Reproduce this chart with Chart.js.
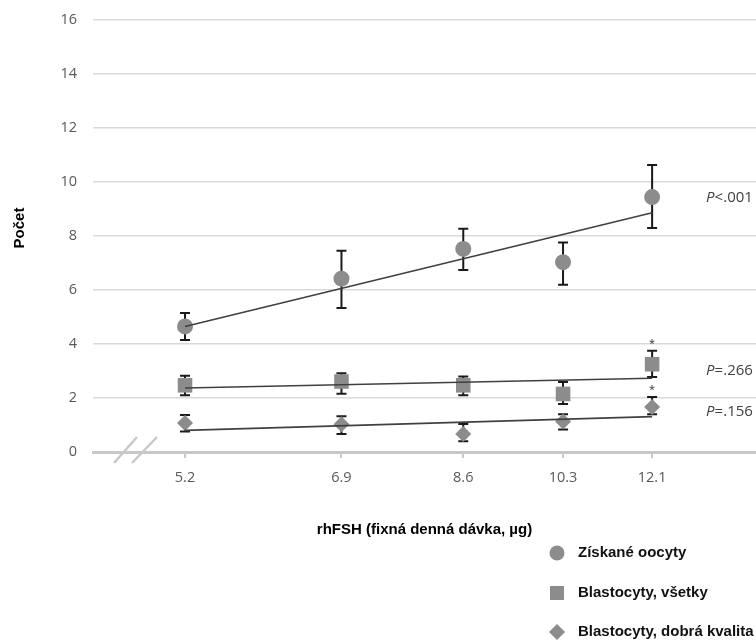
<!DOCTYPE html>
<html><head><meta charset="utf-8">
<script src="https://cdn.jsdelivr.net/npm/chart.js@4.4.0/dist/chart.umd.min.js"></script>
<style>html,body{margin:0;padding:0;background:#fff}#wrap{position:relative;width:756px;height:641px}</style>
</head><body><div id="wrap"><canvas id="c" width="756" height="641"></canvas></div>
<script>
// ---- data ----
const doses = [5.2, 6.9, 8.6, 10.3, 12.1];
const xTickLabels = ['5.2', '6.9', '8.6', '10.3', '12.1'];
const yTickValues = [0, 2, 4, 6, 8, 10, 12, 14, 16];
const seriesNames = ['Získané oocyty', 'Blastocyty, všetky', 'Blastocyty, dobrá kvalita'];
const yTitle = 'Počet';
const xTitle = 'rhFSH (fixná denná dávka, µg)';

const oocytes      = [4.65, 6.42, 7.52, 7.03, 9.44];
const oocytesLow   = [4.15, 5.33, 6.74, 6.19, 8.30];
const oocytesHigh  = [5.15, 7.45, 8.27, 7.76, 10.63];

const blastAll     = [2.47, 2.61, 2.47, 2.15, 3.25];
const blastAllLow  = [2.10, 2.16, 2.10, 1.78, 2.78];
const blastAllHigh = [2.82, 2.92, 2.80, 2.59, 3.75];

const blastGood     = [1.07, 1.03, 0.67, 1.13, 1.67];
const blastGoodLow  = [0.76, 0.67, 0.40, 0.83, 1.40];
const blastGoodHigh = [1.37, 1.32, 1.04, 1.40, 2.04];

const trendDoses      = [5.2, 12.1];
const trendOocytes    = [4.65, 8.86];
const trendBlastAll   = [2.37, 2.73];
const trendBlastGood  = [0.80, 1.31];

const pValueTexts = ['<.001', '=.266', '=.156'];
const starred = [false, true, true];   // asterisk at the highest dose

// ---- styling ----
const MARK = '#8c8c8c';
const TICKFONT = {family: "'Open Sans', sans-serif", size: 14.5};
const BOLD = {family: "'Liberation Sans', Arial, sans-serif", size: 15, weight: 'bold'};
const pts = (xs, ys) => xs.map((v, i) => ({x: v, y: ys[i]}));

const series = [
  {vals: oocytes, low: oocytesLow, high: oocytesHigh, trend: trendOocytes, style: 'circle', r: 8, pOff: -15},
  {vals: blastAll, low: blastAllLow, high: blastAllHigh, trend: trendBlastAll, style: 'rect', r: 10.3, pOff: -8},
  {vals: blastGood, low: blastGoodLow, high: blastGoodHigh, trend: trendBlastGood, style: 'rectRot', r: 8, pOff: -5}
];

const datasets = [];
series.forEach((s, k) => {
  datasets.push({
    label: seriesNames[k], data: pts(doses, s.vals), showLine: false,
    pointStyle: s.style, pointRadius: s.r, pointHoverRadius: s.r,
    backgroundColor: MARK, borderColor: MARK, borderWidth: 0, order: 2
  });
});
series.forEach((s, k) => {
  datasets.push({
    label: seriesNames[k] + ' trend', data: pts(trendDoses, s.trend), showLine: true,
    pointRadius: 0, borderColor: '#404040', borderWidth: 1.6, order: 1
  });
});

const extras = {
  id: 'extras',
  beforeDatasetsDraw(chart) {
    const {ctx, scales: {x, y}} = chart;
    ctx.save();
    ctx.strokeStyle = '#1a1a1a'; ctx.lineWidth = 2;
    series.forEach(s => {
      doses.forEach((d, i) => {
        const px = x.getPixelForValue(d);
        const yl = y.getPixelForValue(s.low[i]), yh = y.getPixelForValue(s.high[i]);
        ctx.beginPath();
        ctx.moveTo(px, yl); ctx.lineTo(px, yh);
        ctx.moveTo(px - 5, yl); ctx.lineTo(px + 5, yl);
        ctx.moveTo(px - 5, yh); ctx.lineTo(px + 5, yh);
        ctx.stroke();
      });
    });
    ctx.restore();
  },
  afterDatasetsDraw(chart) {
    const {ctx, scales: {x, y}} = chart;
    ctx.save();
    // asterisks
    ctx.fillStyle = '#333';
    ctx.font = "11px 'Open Sans', sans-serif";
    ctx.textAlign = 'center'; ctx.textBaseline = 'middle';
    const last = doses.length - 1;
    series.forEach((s, k) => {
      if (!starred[k]) return;
      const px = x.getPixelForValue(doses[last]);
      const py = y.getPixelForValue(s.high[last]) - 7;
      ctx.fillText('*', px, py);
    });
    // p-values
    ctx.fillStyle = '#404040';
    ctx.textAlign = 'left';
    series.forEach((s, k) => {
      const px = x.getPixelForValue(trendDoses[1]) + 54;
      const py = y.getPixelForValue(s.trend[1]) + s.pOff;
      ctx.font = "italic 15px 'Open Sans', sans-serif";
      ctx.fillText('P', px, py);
      const w = ctx.measureText('P').width;
      ctx.font = "15px 'Open Sans', sans-serif";
      ctx.fillText(pValueTexts[k], px + w, py);
    });
    ctx.restore();
  },
  afterDraw(chart) {
    const {ctx, chartArea} = chart;
    ctx.save();
    // axis break marks
    ctx.strokeStyle = '#c8c8c8'; ctx.lineWidth = 2.5;
    const b = chartArea.bottom, l = chartArea.left;
    [[21, 44], [39, 64]].forEach(([a, c]) => {
      ctx.beginPath(); ctx.moveTo(l + a, b + 11); ctx.lineTo(l + c, b - 15); ctx.stroke();
    });
    // y title
    ctx.save();
    ctx.translate(20, 228); ctx.rotate(-Math.PI / 2);
    ctx.fillStyle = '#000';
    ctx.font = "bold 15px 'Liberation Sans', Arial, sans-serif";
    ctx.textAlign = 'center'; ctx.textBaseline = 'middle';
    ctx.fillText(yTitle, 0, 0);
    ctx.restore();
    // legend
    const lx = 557, tx = 578, ys = [553, 593, 632];
    ctx.fillStyle = MARK;
    series.forEach((s, k) => {
      const yy = ys[k];
      ctx.beginPath();
      if (s.style === 'circle') ctx.arc(lx, yy, 7.5, 0, Math.PI * 2);
      else if (s.style === 'rect') ctx.rect(lx - 7, yy - 7, 14, 14);
      else { ctx.moveTo(lx, yy - 8); ctx.lineTo(lx + 8, yy); ctx.lineTo(lx, yy + 8); ctx.lineTo(lx - 8, yy); ctx.closePath(); }
      ctx.fill();
    });
    ctx.fillStyle = '#111';
    ctx.font = "bold 15px 'Liberation Sans', Arial, sans-serif";
    ctx.textAlign = 'left'; ctx.textBaseline = 'middle';
    seriesNames.forEach((n, k) => ctx.fillText(n, tx, ys[k]));
    ctx.restore();
  }
};

new Chart(document.getElementById('c'), {
  type: 'scatter',
  data: {datasets},
  plugins: [extras],
  options: {
    responsive: false, animation: false,
    layout: {autoPadding: false, padding: {left: 0, right: 0, top: 20, bottom: 94}},
    plugins: {legend: {display: false}, tooltip: {enabled: false}},
    scales: {
      x: {
        type: 'logarithmic', position: 'bottom', min: 4.403, max: 14.6,
        afterBuildTicks: sc => { sc.ticks = doses.map(v => ({value: v})); },
        afterFit: sc => { sc.height = 95; sc.paddingLeft = 0; sc.paddingRight = 0; },
        ticks: {
          autoSkip: false, maxRotation: 0, minRotation: 0, padding: 11,
          color: '#595959', font: TICKFONT,
          callback: (v, i) => xTickLabels[i]
        },
        grid: {drawOnChartArea: false, color: '#c8c8c8', lineWidth: 2, tickLength: 6},
        border: {display: true, color: '#c8c8c8', width: 3},
        title: {display: true, text: xTitle, color: '#000', font: BOLD, padding: {top: 0, bottom: 8}}
      },
      y: {
        min: 0, max: 16,
        afterBuildTicks: sc => { sc.ticks = yTickValues.map(v => ({value: v})); },
        afterFit: sc => { sc.width = 93; sc.paddingTop = 0; sc.paddingBottom = 0; },
        ticks: {color: '#595959', font: TICKFONT, padding: 16},
        grid: {color: '#d9d9d9', lineWidth: 1.5, drawTicks: false},
        border: {display: false},
        title: {display: false}
      }
    }
  }
});
</script></body></html>
